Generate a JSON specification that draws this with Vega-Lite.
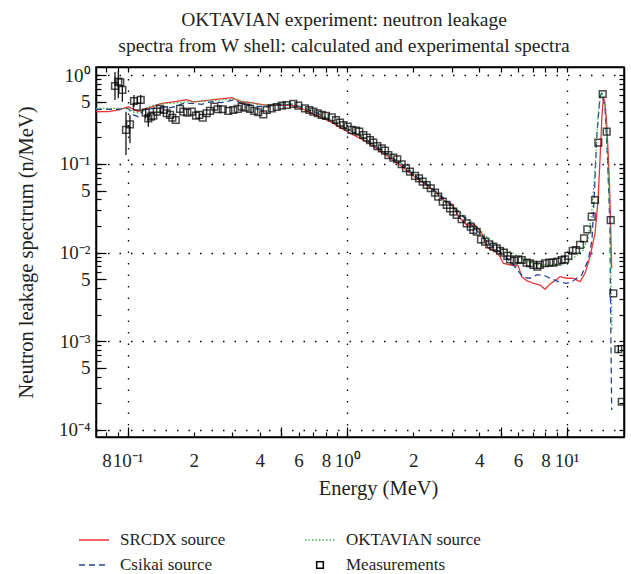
{
"$schema":"https://vega.github.io/schema/vega-lite/v6.json",
"width":528,"height":370,
"autosize":{"type":"none"},
"padding":{"left":96,"top":67,"right":7,"bottom":137},
"background":"white",
"title":{"text":["OKTAVIAN experiment: neutron leakage","spectra from W shell: calculated and experimental spectra"],"font":"Liberation Serif","fontSize":19.5,"fontWeight":"normal","color":"#231f20","anchor":"middle","offset":10,"dx":-16,"lineHeight":26},
"datasets":{
"curves":[
{"s":"SRCDX source","e":0.0717,"v":0.389},{"s":"SRCDX source","e":0.0816,"v":0.389},{"s":"SRCDX source","e":0.0906,"v":0.406},{"s":"SRCDX source","e":0.1006,"v":0.442},{"s":"SRCDX source","e":0.1114,"v":0.391},{"s":"SRCDX source","e":0.1264,"v":0.433},{"s":"SRCDX source","e":0.1428,"v":0.483},{"s":"SRCDX source","e":0.1642,"v":0.504},{"s":"SRCDX source","e":0.1844,"v":0.530},{"s":"SRCDX source","e":0.2005,"v":0.500},{"s":"SRCDX source","e":0.2226,"v":0.516},{"s":"SRCDX source","e":0.2544,"v":0.536},{"s":"SRCDX source","e":0.2978,"v":0.559},{"s":"SRCDX source","e":0.3306,"v":0.504},{"s":"SRCDX source","e":0.3606,"v":0.493},{"s":"SRCDX source","e":0.4222,"v":0.462},{"s":"SRCDX source","e":0.4941,"v":0.462},{"s":"SRCDX source","e":0.568,"v":0.456},{"s":"SRCDX source","e":0.642,"v":0.406},{"s":"SRCDX source","e":0.738,"v":0.346},{"s":"SRCDX source","e":0.835,"v":0.301},{"s":"SRCDX source","e":0.944,"v":0.252},{"s":"SRCDX source","e":1.030,"v":0.222},{"s":"SRCDX source","e":1.227,"v":0.178},{"s":"SRCDX source","e":1.461,"v":0.132},{"s":"SRCDX source","e":1.740,"v":0.0976},{"s":"SRCDX source","e":2.073,"v":0.0689},{"s":"SRCDX source","e":2.303,"v":0.0579},{"s":"SRCDX source","e":2.556,"v":0.0467},{"s":"SRCDX source","e":2.840,"v":0.0366},{"s":"SRCDX source","e":2.993,"v":0.0354},{"s":"SRCDX source","e":3.265,"v":0.0244},{"s":"SRCDX source","e":3.503,"v":0.0205},{"s":"SRCDX source","e":3.820,"v":0.0205},{"s":"SRCDX source","e":4.100,"v":0.0165},{"s":"SRCDX source","e":4.393,"v":0.0112},{"s":"SRCDX source","e":4.714,"v":0.0105},{"s":"SRCDX source","e":4.968,"v":0.0090},{"s":"SRCDX source","e":5.142,"v":0.00759},{"s":"SRCDX source","e":5.518,"v":0.00726},{"s":"SRCDX source","e":6.019,"v":0.00707},{"s":"SRCDX source","e":6.237,"v":0.00535},{"s":"SRCDX source","e":6.573,"v":0.00483},{"s":"SRCDX source","e":7.044,"v":0.00451},{"s":"SRCDX source","e":7.557,"v":0.00432},{"s":"SRCDX source","e":7.963,"v":0.00386},{"s":"SRCDX source","e":8.392,"v":0.00443},{"s":"SRCDX source","e":8.845,"v":0.00483},{"s":"SRCDX source","e":9.322,"v":0.00535},{"s":"SRCDX source","e":10.0,"v":0.00514},{"s":"SRCDX source","e":10.72,"v":0.00514},{"s":"SRCDX source","e":11.50,"v":0.00470},{"s":"SRCDX source","e":12.12,"v":0.00585},{"s":"SRCDX source","e":12.77,"v":0.0090},{"s":"SRCDX source","e":13.46,"v":0.0165},{"s":"SRCDX source","e":13.89,"v":0.0392},{"s":"SRCDX source","e":14.18,"v":0.111},{"s":"SRCDX source","e":14.48,"v":0.357},{"s":"SRCDX source","e":14.71,"v":0.569},{"s":"SRCDX source","e":14.94,"v":0.487},{"s":"SRCDX source","e":15.18,"v":0.313},{"s":"SRCDX source","e":15.50,"v":0.111},{"s":"SRCDX source","e":15.75,"v":0.0392},{"s":"SRCDX source","e":15.91,"v":0.0139},{"s":"SRCDX source","e":16.03,"v":0.00671},
{"s":"Csikai source","e":0.0717,"v":0.414},{"s":"Csikai source","e":0.0906,"v":0.414},{"s":"Csikai source","e":0.1006,"v":0.424},{"s":"Csikai source","e":0.1061,"v":0.357},{"s":"Csikai source","e":0.1117,"v":0.341},{"s":"Csikai source","e":0.1178,"v":0.406},{"s":"Csikai source","e":0.1308,"v":0.424},{"s":"Csikai source","e":0.1559,"v":0.431},{"s":"Csikai source","e":0.1642,"v":0.442},{"s":"Csikai source","e":0.1792,"v":0.483},{"s":"Csikai source","e":0.1957,"v":0.483},{"s":"Csikai source","e":0.2173,"v":0.471},{"s":"Csikai source","e":0.2414,"v":0.504},{"s":"Csikai source","e":0.2681,"v":0.491},{"s":"Csikai source","e":0.3028,"v":0.527},{"s":"Csikai source","e":0.3306,"v":0.483},{"s":"Csikai source","e":0.4006,"v":0.442},{"s":"Csikai source","e":0.4941,"v":0.462},{"s":"Csikai source","e":0.568,"v":0.469},{"s":"Csikai source","e":0.642,"v":0.422},{"s":"Csikai source","e":0.736,"v":0.371},{"s":"Csikai source","e":0.865,"v":0.297},{"s":"Csikai source","e":1.030,"v":0.238},{"s":"Csikai source","e":1.227,"v":0.186},{"s":"Csikai source","e":1.461,"v":0.138},{"s":"Csikai source","e":1.740,"v":0.103},{"s":"Csikai source","e":2.073,"v":0.0713},{"s":"Csikai source","e":2.303,"v":0.0594},{"s":"Csikai source","e":2.556,"v":0.0483},{"s":"Csikai source","e":2.840,"v":0.0382},{"s":"Csikai source","e":3.154,"v":0.0303},{"s":"Csikai source","e":3.503,"v":0.0233},{"s":"Csikai source","e":3.890,"v":0.0178},{"s":"Csikai source","e":4.320,"v":0.0135},{"s":"Csikai source","e":4.714,"v":0.0110},{"s":"Csikai source","e":4.968,"v":0.0102},{"s":"Csikai source","e":5.290,"v":0.00893},{"s":"Csikai source","e":5.712,"v":0.00726},{"s":"Csikai source","e":6.343,"v":0.00527},{"s":"Csikai source","e":6.805,"v":0.00514},{"s":"Csikai source","e":7.301,"v":0.00560},{"s":"Csikai source","e":7.823,"v":0.00560},{"s":"Csikai source","e":8.392,"v":0.00514},{"s":"Csikai source","e":9.156,"v":0.00470},{"s":"Csikai source","e":10.0,"v":0.00451},{"s":"Csikai source","e":10.54,"v":0.00470},{"s":"Csikai source","e":11.11,"v":0.00514},{"s":"Csikai source","e":11.70,"v":0.00560},{"s":"Csikai source","e":12.54,"v":0.00826},{"s":"Csikai source","e":13.04,"v":0.0139},{"s":"Csikai source","e":13.39,"v":0.0509},{"s":"Csikai source","e":13.70,"v":0.203},{"s":"Csikai source","e":14.18,"v":0.574},{"s":"Csikai source","e":14.44,"v":0.627},{"s":"Csikai source","e":14.94,"v":0.442},{"s":"Csikai source","e":15.31,"v":0.132},{"s":"Csikai source","e":15.75,"v":0.0196},{"s":"Csikai source","e":15.83,"v":0.00292},{"s":"Csikai source","e":16.03,"v":0.000168},
{"s":"OKTAVIAN source","e":0.0717,"v":0.424},{"s":"OKTAVIAN source","e":0.0906,"v":0.424},{"s":"OKTAVIAN source","e":0.1006,"v":0.424},{"s":"OKTAVIAN source","e":0.1057,"v":0.386},{"s":"OKTAVIAN source","e":0.1114,"v":0.376},{"s":"OKTAVIAN source","e":0.1241,"v":0.442},{"s":"OKTAVIAN source","e":0.1403,"v":0.475},{"s":"OKTAVIAN source","e":0.1642,"v":0.487},{"s":"OKTAVIAN source","e":0.1957,"v":0.504},{"s":"OKTAVIAN source","e":0.2250,"v":0.513},{"s":"OKTAVIAN source","e":0.2681,"v":0.527},{"s":"OKTAVIAN source","e":0.3028,"v":0.540},{"s":"OKTAVIAN source","e":0.3422,"v":0.506},{"s":"OKTAVIAN source","e":0.4006,"v":0.462},{"s":"OKTAVIAN source","e":0.4941,"v":0.475},{"s":"OKTAVIAN source","e":0.568,"v":0.475},{"s":"OKTAVIAN source","e":0.642,"v":0.428},{"s":"OKTAVIAN source","e":0.736,"v":0.376},{"s":"OKTAVIAN source","e":0.865,"v":0.301},{"s":"OKTAVIAN source","e":1.030,"v":0.242},{"s":"OKTAVIAN source","e":1.227,"v":0.189},{"s":"OKTAVIAN source","e":1.461,"v":0.140},{"s":"OKTAVIAN source","e":1.740,"v":0.104},{"s":"OKTAVIAN source","e":2.073,"v":0.0741},{"s":"OKTAVIAN source","e":2.303,"v":0.0605},{"s":"OKTAVIAN source","e":2.740,"v":0.0392},{"s":"OKTAVIAN source","e":3.154,"v":0.0303},{"s":"OKTAVIAN source","e":3.754,"v":0.0214},{"s":"OKTAVIAN source","e":4.320,"v":0.0151},{"s":"OKTAVIAN source","e":4.968,"v":0.0112},{"s":"OKTAVIAN source","e":5.712,"v":0.00983},{"s":"OKTAVIAN source","e":6.573,"v":0.0079},{"s":"OKTAVIAN source","e":7.557,"v":0.00726},{"s":"OKTAVIAN source","e":8.690,"v":0.00739},{"s":"OKTAVIAN source","e":9.650,"v":0.00744},{"s":"OKTAVIAN source","e":10.72,"v":0.00863},{"s":"OKTAVIAN source","e":11.90,"v":0.0107},{"s":"OKTAVIAN source","e":12.50,"v":0.0146},{"s":"OKTAVIAN source","e":12.97,"v":0.0266},{"s":"OKTAVIAN source","e":13.46,"v":0.0855},{"s":"OKTAVIAN source","e":13.89,"v":0.357},{"s":"OKTAVIAN source","e":14.26,"v":0.599},{"s":"OKTAVIAN source","e":14.48,"v":0.632},{"s":"OKTAVIAN source","e":14.94,"v":0.451},{"s":"OKTAVIAN source","e":15.31,"v":0.144},{"s":"OKTAVIAN source","e":15.75,"v":0.0205},{"s":"OKTAVIAN source","e":16.00,"v":0.00292},{"s":"OKTAVIAN source","e":16.08,"v":0.00134}
],
"meas":[
{"s":"Measurements","e":0.0875,"v":0.757},{"s":"Measurements","e":0.0906,"v":0.847},{"s":"Measurements","e":0.0925,"v":0.834},{"s":"Measurements","e":0.0945,"v":0.683},{"s":"Measurements","e":0.0982,"v":0.242},{"s":"Measurements","e":0.1024,"v":0.280},{"s":"Measurements","e":0.1068,"v":0.513},{"s":"Measurements","e":0.110,"v":0.442},{"s":"Measurements","e":0.1146,"v":0.527},{"s":"Measurements","e":0.1208,"v":0.379},{"s":"Measurements","e":0.1241,"v":0.327},{"s":"Measurements","e":0.1277,"v":0.341},{"s":"Measurements","e":0.1308,"v":0.350},{"s":"Measurements","e":0.1356,"v":0.389},{"s":"Measurements","e":0.1403,"v":0.417},{"s":"Measurements","e":0.1463,"v":0.406},{"s":"Measurements","e":0.1505,"v":0.373},{"s":"Measurements","e":0.1559,"v":0.357},{"s":"Measurements","e":0.1597,"v":0.332},{"s":"Measurements","e":0.1655,"v":0.313},{"s":"Measurements","e":0.1731,"v":0.417},{"s":"Measurements","e":0.1792,"v":0.389},{"s":"Measurements","e":0.1869,"v":0.379},{"s":"Measurements","e":0.1957,"v":0.389},{"s":"Measurements","e":0.2047,"v":0.350},{"s":"Measurements","e":0.2119,"v":0.357},{"s":"Measurements","e":0.2196,"v":0.332},{"s":"Measurements","e":0.2291,"v":0.373},{"s":"Measurements","e":0.2371,"v":0.396},{"s":"Measurements","e":0.2481,"v":0.442},{"s":"Measurements","e":0.257,"v":0.414},{"s":"Measurements","e":0.271,"v":0.414},{"s":"Measurements","e":0.2873,"v":0.396},{"s":"Measurements","e":0.3028,"v":0.406},{"s":"Measurements","e":0.3171,"v":0.417},{"s":"Measurements","e":0.3306,"v":0.442},{"s":"Measurements","e":0.3447,"v":0.431},{"s":"Measurements","e":0.3606,"v":0.417},{"s":"Measurements","e":0.3773,"v":0.396},{"s":"Measurements","e":0.3936,"v":0.383},{"s":"Measurements","e":0.4148,"v":0.363},{"s":"Measurements","e":0.4298,"v":0.406},{"s":"Measurements","e":0.4529,"v":0.424},{"s":"Measurements","e":0.4773,"v":0.439},{"s":"Measurements","e":0.5030,"v":0.454},{"s":"Measurements","e":0.5301,"v":0.462},{"s":"Measurements","e":0.568,"v":0.475},{"s":"Measurements","e":0.5988,"v":0.454},{"s":"Measurements","e":0.642,"v":0.424},{"s":"Measurements","e":0.672,"v":0.406},{"s":"Measurements","e":0.701,"v":0.389},{"s":"Measurements","e":0.734,"v":0.373},{"s":"Measurements","e":0.765,"v":0.357},{"s":"Measurements","e":0.800,"v":0.348},{"s":"Measurements","e":0.850,"v":0.336},{"s":"Measurements","e":0.889,"v":0.313},{"s":"Measurements","e":0.927,"v":0.292},{"s":"Measurements","e":0.960,"v":0.275},{"s":"Measurements","e":1.005,"v":0.263},{"s":"Measurements","e":1.048,"v":0.242},{"s":"Measurements","e":1.097,"v":0.237},{"s":"Measurements","e":1.135,"v":0.231},{"s":"Measurements","e":1.184,"v":0.212},{"s":"Measurements","e":1.227,"v":0.198},{"s":"Measurements","e":1.270,"v":0.186},{"s":"Measurements","e":1.315,"v":0.174},{"s":"Measurements","e":1.371,"v":0.159},{"s":"Measurements","e":1.437,"v":0.150},{"s":"Measurements","e":1.487,"v":0.141},{"s":"Measurements","e":1.539,"v":0.126},{"s":"Measurements","e":1.622,"v":0.118},{"s":"Measurements","e":1.691,"v":0.113},{"s":"Measurements","e":1.771,"v":0.0992},{"s":"Measurements","e":1.853,"v":0.0894},{"s":"Measurements","e":1.932,"v":0.0818},{"s":"Measurements","e":2.037,"v":0.0732},{"s":"Measurements","e":2.124,"v":0.0689},{"s":"Measurements","e":2.208,"v":0.0631},{"s":"Measurements","e":2.303,"v":0.0579},{"s":"Measurements","e":2.402,"v":0.0532},{"s":"Measurements","e":2.512,"v":0.0474},{"s":"Measurements","e":2.600,"v":0.0428},{"s":"Measurements","e":2.723,"v":0.0375},{"s":"Measurements","e":2.840,"v":0.0345},{"s":"Measurements","e":2.940,"v":0.0316},{"s":"Measurements","e":3.044,"v":0.0290},{"s":"Measurements","e":3.154,"v":0.0266},{"s":"Measurements","e":3.323,"v":0.0238},{"s":"Measurements","e":3.503,"v":0.0214},{"s":"Measurements","e":3.653,"v":0.0196},{"s":"Measurements","e":3.754,"v":0.0180},{"s":"Measurements","e":3.890,"v":0.0172},{"s":"Measurements","e":4.070,"v":0.0141},{"s":"Measurements","e":4.244,"v":0.0133},{"s":"Measurements","e":4.440,"v":0.0124},{"s":"Measurements","e":4.630,"v":0.0117},{"s":"Measurements","e":4.799,"v":0.0112},{"s":"Measurements","e":4.968,"v":0.0105},{"s":"Measurements","e":5.181,"v":0.00998},{"s":"Measurements","e":5.364,"v":0.0092},{"s":"Measurements","e":5.518,"v":0.00841},{"s":"Measurements","e":5.754,"v":0.00811},{"s":"Measurements","e":6.019,"v":0.00841},{"s":"Measurements","e":6.237,"v":0.00826},{"s":"Measurements","e":6.573,"v":0.00770},{"s":"Measurements","e":6.805,"v":0.00759},{"s":"Measurements","e":7.044,"v":0.00726},{"s":"Measurements","e":7.347,"v":0.00694},{"s":"Measurements","e":7.557,"v":0.00726},{"s":"Measurements","e":7.963,"v":0.00759},{"s":"Measurements","e":8.331,"v":0.00770},{"s":"Measurements","e":8.690,"v":0.00770},{"s":"Measurements","e":9.062,"v":0.00790},{"s":"Measurements","e":9.490,"v":0.00826},{"s":"Measurements","e":9.824,"v":0.00841},{"s":"Measurements","e":10.17,"v":0.00917},{"s":"Measurements","e":10.65,"v":0.0105},{"s":"Measurements","e":11.03,"v":0.0107},{"s":"Measurements","e":11.50,"v":0.0122},{"s":"Measurements","e":11.99,"v":0.0145},{"s":"Measurements","e":12.41,"v":0.0183},{"s":"Measurements","e":13.00,"v":0.0254},{"s":"Measurements","e":13.46,"v":0.0392},{"s":"Measurements","e":13.93,"v":0.174},{"s":"Measurements","e":14.59,"v":0.615},{"s":"Measurements","e":15.21,"v":0.231},{"s":"Measurements","e":15.87,"v":0.0233},{"s":"Measurements","e":16.31,"v":0.00348},{"s":"Measurements","e":17.18,"v":0.000813},{"s":"Measurements","e":17.81,"v":0.000208}
],
"err":[
{"e":0.0875,"lo":0.527,"hi":1.09},{"e":0.0906,"lo":0.55,"hi":1.10},{"e":0.0945,"lo":0.504,"hi":0.777},{"e":0.0982,"lo":0.126,"hi":0.389},{"e":0.1024,"lo":0.171,"hi":0.357},{"e":0.1068,"lo":0.443,"hi":0.600},{"e":0.1146,"lo":0.484,"hi":0.600},{"e":0.1208,"lo":0.327,"hi":0.424},{"e":0.1241,"lo":0.263,"hi":0.357},{"e":17.18,"lo":0.000733,"hi":0.00091}
]
},
"layer":[
{
"data":{"name":"curves"},
"mark":{"type":"line","strokeWidth":1.3,"clip":true},
"encoding":{
"x":{"field":"e","type":"quantitative","scale":{"type":"log","domain":[0.0717,18.24],"nice":false},
 "axis":{"orient":"bottom","values":[0.08,0.09,0.1,0.2,0.3,0.4,0.5,0.6,0.7,0.8,0.9,1,2,3,4,5,6,7,8,9,10],
 "labelExpr":"datum.value==0.1?'10⁻¹':datum.value==1?'10⁰':datum.value==10?'10¹':indexof([0.08,0.8,8],datum.value)>=0?'8':indexof([0.2,2],datum.value)>=0?'2':indexof([0.4,4],datum.value)>=0?'4':indexof([0.6,6],datum.value)>=0?'6':''",
 "tickSize":-5,"tickWidth":1.2,"tickColor":"#000","labelPadding":19,"labelFont":"Liberation Serif","labelFontSize":19,"labelColor":"#231f20","labelOverlap":false,"labelBound":false,"labelFlush":false,
 "title":"Energy (MeV)","titleFont":"Liberation Serif","titleFontSize":20.5,"titleFontWeight":"normal","titleColor":"#231f20","titlePadding":8,"titleX":282,
 "grid":true,"gridColor":"#000","gridDash":[1.5,10],"gridWidth":1.3,"gridOpacity":{"condition":{"test":"indexof([0.1,1,10],datum.value)>=0","value":1},"value":0},
 "domainColor":"#000","domainWidth":1.5}},
"y":{"field":"v","type":"quantitative","scale":{"type":"log","domain":[0.0000833,1.24],"nice":false},
 "axis":{"orient":"left","values":[0.0001,0.0002,0.0003,0.0004,0.0005,0.0006,0.0007,0.0008,0.0009,0.001,0.002,0.003,0.004,0.005,0.006,0.007,0.008,0.009,0.01,0.02,0.03,0.04,0.05,0.06,0.07,0.08,0.09,0.1,0.2,0.3,0.4,0.5,0.6,0.7,0.8,0.9,1],
 "labelExpr":"datum.value==1?'10⁰':datum.value==0.1?'10⁻¹':datum.value==0.01?'10⁻²':datum.value==0.001?'10⁻³':datum.value==0.0001?'10⁻⁴':indexof([0.5,0.05,0.005,0.0005],datum.value)>=0?'5':''",
 "tickSize":-5,"tickWidth":1.2,"tickColor":"#000","labelPadding":11,"labelFont":"Liberation Serif","labelFontSize":19,"labelColor":"#231f20","labelOverlap":false,"labelBound":false,"labelFlush":false,
 "title":"Neutron leakage spectrum (n/MeV)","titleFont":"Liberation Serif","titleFontSize":20.5,"titleFontWeight":"normal","titleColor":"#231f20","titlePadding":22,
 "grid":true,"gridColor":"#000","gridDash":[1.5,10],"gridWidth":1.3,"gridOpacity":{"condition":{"test":"indexof([1,0.1,0.01,0.001,0.0001],datum.value)>=0","value":1},"value":0},
 "domainColor":"#000","domainWidth":1.5}},
"color":{"field":"s","type":"nominal","scale":{"domain":["SRCDX source","Csikai source","OKTAVIAN source","Measurements"],"range":["#ec3434","#24439c","#3db54a","#000000"]},
 "legend":{"title":null,"encode":{"symbols":{"update":{"size":{"signal":"datum.value === 'Measurements' ? 45 : 900"},"fill":{"value":"transparent"},"strokeWidth":{"value":1.5}}}}}},
"strokeDash":{"field":"s","type":"nominal","scale":{"domain":["SRCDX source","Csikai source","OKTAVIAN source","Measurements"],"range":[[1,0],[6,4],[1.5,2],[1,0]]},
 "legend":{"title":null,"encode":{"symbols":{"update":{"size":{"signal":"datum.value === 'Measurements' ? 45 : 900"},"fill":{"value":"transparent"},"strokeWidth":{"value":1.5}}}}}}
}
},
{
"data":{"name":"err"},
"mark":{"type":"rule","color":"#000","strokeWidth":1.2,"clip":true},
"encoding":{
"x":{"field":"e","type":"quantitative","scale":{"type":"log","domain":[0.0717,18.24],"nice":false},
 "axis":{"orient":"bottom","values":[0.1,0.5,1,5,10],"tickSize":-10,"tickWidth":1.2,"tickColor":"#000","labels":false,"domain":false,"grid":false,"title":null}},
"y":{"field":"lo","type":"quantitative","scale":{"type":"log","domain":[0.0000833,1.24],"nice":false},
 "axis":{"orient":"left","values":[0.0001,0.0005,0.001,0.005,0.01,0.05,0.1,0.5,1],"tickSize":-10,"tickWidth":1.2,"tickColor":"#000","labels":false,"domain":false,"grid":false,"title":null}},
"y2":{"field":"hi"}
}
},
{
"data":{"name":"meas"},
"mark":{"type":"point","filled":false,"size":45,"strokeWidth":1.5,"clip":true},
"encoding":{
"x":{"field":"e","type":"quantitative","scale":{"type":"log","domain":[0.0717,18.24],"nice":false},
 "axis":{"orient":"top","values":[0.08,0.09,0.1,0.2,0.3,0.4,0.5,0.6,0.7,0.8,0.9,1,2,3,4,5,6,7,8,9,10],"tickSize":-5,"tickWidth":1.2,"tickColor":"#000","labels":false,"grid":false,"title":null,"domainColor":"#000","domainWidth":1.5}},
"y":{"field":"v","type":"quantitative","scale":{"type":"log","domain":[0.0000833,1.24],"nice":false},
 "axis":{"orient":"right","values":[0.0001,0.0002,0.0003,0.0004,0.0005,0.0006,0.0007,0.0008,0.0009,0.001,0.002,0.003,0.004,0.005,0.006,0.007,0.008,0.009,0.01,0.02,0.03,0.04,0.05,0.06,0.07,0.08,0.09,0.1,0.2,0.3,0.4,0.5,0.6,0.7,0.8,0.9,1],"tickSize":-5,"tickWidth":1.2,"tickColor":"#000","labels":false,"grid":false,"title":null,"domainColor":"#000","domainWidth":1.5}},
"color":{"field":"s","type":"nominal","scale":{"domain":["SRCDX source","Csikai source","OKTAVIAN source","Measurements"],"range":["#ec3434","#24439c","#3db54a","#000000"]},
 "legend":{"title":null,"encode":{"symbols":{"update":{"size":{"signal":"datum.value === 'Measurements' ? 45 : 900"},"fill":{"value":"transparent"},"strokeWidth":{"value":1.5}}}}}},
"shape":{"field":"s","type":"nominal","scale":{"domain":["SRCDX source","Csikai source","OKTAVIAN source","Measurements"],"range":["stroke","stroke","stroke","square"]},
 "legend":{"title":null,"encode":{"symbols":{"update":{"size":{"signal":"datum.value === 'Measurements' ? 45 : 900"},"fill":{"value":"transparent"},"strokeWidth":{"value":1.5}}}}}}
}
}
],
"resolve":{"axis":{"x":"independent","y":"independent"}},
"config":{
"view":{"stroke":"#000","strokeWidth":1.5},
"legend":{"orient":"none","legendX":-18,"legendY":457,"columns":2,"columnPadding":76,"rowPadding":1,"padding":0,"gridAlign":"each","labelFont":"Liberation Serif","labelFontSize":17,"labelColor":"#231f20","labelOffset":10,"symbolSize":900,"symbolStrokeWidth":1.5,"labelLimit":300}
}
}
